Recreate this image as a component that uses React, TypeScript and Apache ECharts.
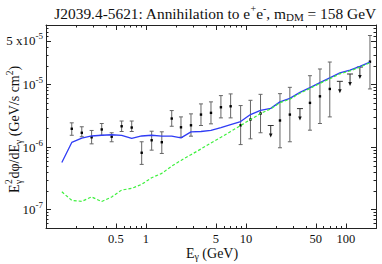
import React, { useEffect, useRef } from "react";
import * as echarts from "echarts";

// ---- data (GeV, GeV/s cm^2) ----
const energies = [0.181, 0.228, 0.286, 0.361, 0.454, 0.571, 0.72, 0.906, 1.14, 1.44, 1.81, 2.24, 2.82, 3.55, 4.47, 5.62, 7.03, 8.85, 11.1, 14.0, 17.7, 21.9, 27.5, 34.7, 43.7, 55, 69, 87, 110, 138, 174];
const flux = [1.97e-6, 1.70e-6, 1.44e-6, 1.92e-6, 1.47e-6, 2.16e-6, 2.06e-6, 8.14e-7, 1.29e-6, 1.20e-6, 2.87e-6, 2.08e-6, 2.24e-6, 3.32e-6, 3.54e-6, 4.35e-6, 4.51e-6, 2.24e-6, 2.77e-6, 3.45e-6, null, 2.67e-6, 3.32e-6, null, 5.11e-6, 6.51e-6, 8.54e-6, null, null, null, 2.33e-5];
const fluxLow = [1.55e-6, 1.47e-6, 1.13e-6, 1.55e-6, 1.22e-6, 1.78e-6, 1.78e-6, 5.30e-7, 8.96e-7, 7.93e-7, 2.16e-6, 1.44e-6, 1.50e-6, 2.22e-6, 2.36e-6, 2.94e-6, 2.94e-6, 1.10e-6, 1.36e-6, 1.70e-6, null, 9.78e-7, 1.22e-6, null, 1.87e-6, 2.39e-6, 3.05e-6, null, null, null, 8.54e-6];
const fluxHigh = [2.45e-6, 2.12e-6, 1.85e-6, 2.39e-6, 1.70e-6, 2.62e-6, 2.62e-6, 1.22e-6, 1.80e-6, 1.76e-6, 3.85e-6, 3.05e-6, 3.41e-6, 4.92e-6, 5.30e-6, 6.68e-6, 7.11e-6, 4.63e-6, 5.62e-6, 7.00e-6, null, 7.18e-6, 9.06e-6, null, 1.39e-5, 1.78e-5, 2.30e-5, null, null, null, 6.11e-5];
const upperLimits = [null, null, null, null, null, null, null, null, null, null, null, null, null, null, null, null, null, null, null, null, 2.22e-6, null, null, 4.14e-6, null, null, null, 1.13e-5, 1.48e-5, 1.91e-5, null];

const modelEnergies = [0.144, 0.181, 0.228, 0.286, 0.361, 0.454, 0.571, 0.72, 0.906, 1.14, 1.44, 1.81, 2.24, 2.82, 3.55, 4.47, 5.62, 7.03, 8.85, 11.1, 14.0, 17.7, 21.9, 27.5, 34.7, 43.7, 55, 69, 87, 110, 138, 174];
const totalModel = [5.70e-7, 1.19e-6, 1.40e-6, 1.51e-6, 1.55e-6, 1.58e-6, 1.54e-6, 1.38e-6, 1.51e-6, 1.55e-6, 1.50e-6, 1.50e-6, 1.41e-6, 1.76e-6, 1.78e-6, 1.85e-6, 2.06e-6, 2.30e-6, 2.57e-6, 3.32e-6, 3.89e-6, 4.17e-6, 5.30e-6, 6.04e-6, 7.51e-6, 8.96e-6, 1.08e-5, 1.28e-5, 1.54e-5, 1.71e-5, 1.96e-5, 2.30e-5];
const dmModel = [1.93e-7, 1.41e-7, 1.36e-7, 1.60e-7, 1.35e-7, 1.60e-7, 2.06e-7, 2.19e-7, 2.54e-7, 3.25e-7, 3.81e-7, 4.98e-7, 6.14e-7, 7.57e-7, 9.36e-7, 1.17e-6, 1.44e-6, 1.78e-6, 2.22e-6, 2.77e-6, 3.45e-6, 4.10e-6, 5.15e-6, 5.85e-6, 7.30e-6, 8.70e-6, 1.05e-5, 1.24e-5, 1.49e-5, 1.66e-5, 1.90e-5, 2.25e-5];

const xRange = [0.1, 200];
const yRange = [5e-8, 9e-5];
const xLabelValues = [0.5, 1, 5, 10, 50, 100];
const xMinorValues = [0.2, 0.3, 0.4, 0.6, 0.7, 0.8, 0.9, 2, 3, 4, 6, 7, 8, 9, 20, 30, 40, 60, 70, 80, 90];
const yLabelValues = [1e-7, 1e-6, 1e-5, 5e-5];
const yMinorValues = [6e-8, 7e-8, 8e-8, 9e-8, 2e-7, 3e-7, 4e-7, 5e-7, 6e-7, 7e-7, 8e-7, 9e-7, 2e-6, 3e-6, 4e-6, 5e-6, 6e-6, 7e-6, 8e-6, 9e-6, 2e-5, 3e-5, 4e-5, 6e-5, 7e-5, 8e-5];

const titleText = "J2039.4-5621: Annihilation to e{sup|+}e{sup|-}, m{sub|DM} = 158 GeV";

const L = (v: number) => Math.log10(v);
const FONT = "Liberation Serif";
const INK = "#111";
const FRAME = "#222";

export default function App() {
  const ref = useRef<HTMLDivElement>(null);
  useEffect(() => {
    if (!ref.current) return;
    const chart = echarts.init(ref.current, undefined, { renderer: "svg" });

    const xmin = L(xRange[0]), xmax = L(xRange[1]);
    const ymin = L(yRange[0]), ymax = L(yRange[1]);
    const lineStyle = { color: FRAME, width: 1 };

    const xAxisBase = (position: string, ticks: number[], len: number, showLine: boolean, labels: boolean) => ({
      type: "value",
      position,
      min: xmin,
      max: xmax,
      axisLine: { show: showLine, onZero: false, lineStyle },
      axisTick: { show: true, inside: true, length: len, customValues: ticks.map(L), lineStyle },
      axisLabel: labels
        ? {
            show: true,
            customValues: ticks.map(L),
            margin: 4,
            fontSize: 12.5,
            fontFamily: FONT,
            color: INK,
            formatter: (v: number) => String(Math.round(Math.pow(10, v) * 10) / 10),
          }
        : { show: false },
      splitLine: { show: false },
      axisPointer: { show: false },
    });
    const yAxisBase = (position: string, ticks: number[], len: number, showLine: boolean, labels: boolean) => ({
      type: "value",
      position,
      min: ymin,
      max: ymax,
      axisLine: { show: showLine, onZero: false, lineStyle },
      axisTick: { show: true, inside: true, length: len, customValues: ticks.map(L), lineStyle },
      axisLabel: labels
        ? {
            show: true,
            customValues: ticks.map(L),
            margin: 3,
            color: INK,
            fontFamily: FONT,
            fontSize: 13,
            formatter: (v: number) => {
              const e = Math.round(v);
              if (Math.abs(v - e) < 1e-6) return `{b|10}{s|${e}}`;
              const f = Math.floor(v);
              const m = Math.round(Math.pow(10, v - f));
              return `{b|${m} x10}{s|${f}}`;
            },
            rich: {
              b: { fontSize: 13, fontFamily: FONT, color: INK },
              s: { fontSize: 9, fontFamily: FONT, color: INK, padding: [0, 0, 9, 0] },
            },
          }
        : { show: false },
      splitLine: { show: false },
      axisPointer: { show: false },
    });

    const barData = energies.map((e, i) => {
      const u = upperLimits[i];
      if (u != null) return [L(e), L(u), 0, 0, 1];
      return [L(e), L(flux[i] as number), L(fluxLow[i] as number), L(fluxHigh[i] as number), 0];
    });

    const barColor = "#666666";
    const option: any = {
      animation: false,
      backgroundColor: "#ffffff",
      grid: { left: 46, right: 6, top: 25, bottom: 35.5, containLabel: false },
      xAxis: [
        xAxisBase("bottom", xLabelValues, 5, true, true),
        xAxisBase("bottom", xMinorValues, 2.5, false, false),
        xAxisBase("top", xLabelValues, 5, true, false),
        xAxisBase("top", xMinorValues, 2.5, false, false),
      ],
      yAxis: [
        yAxisBase("left", yLabelValues, 5, true, true),
        yAxisBase("left", yMinorValues, 2.5, false, false),
        yAxisBase("right", yLabelValues, 5, true, false),
        yAxisBase("right", yMinorValues, 2.5, false, false),
      ],
      series: [
        {
          type: "line",
          name: "total",
          data: modelEnergies.map((e, i) => [L(e), L(totalModel[i])]),
          showSymbol: false,
          symbol: "none",
          lineStyle: { color: "#2f3cf5", width: 1.3 },
          z: 3,
        },
        {
          type: "line",
          name: "dm",
          data: modelEnergies.map((e, i) => [L(e), L(dmModel[i])]),
          showSymbol: false,
          symbol: "none",
          lineStyle: { color: "#3ef03e", width: 1.2, type: [3, 2] },
          z: 4,
        },
        {
          type: "custom",
          name: "data",
          data: barData,
          encode: { x: 0, y: 1 },
          z: 2,
          renderItem: (_p: any, api: any) => {
            const x = api.value(0);
            const isUL = api.value(4);
            const st = { stroke: barColor, lineWidth: 1 };
            if (isUL) {
              const p = api.coord([x, api.value(1)]);
              return {
                type: "group",
                children: [
                  { type: "line", shape: { x1: p[0] - 3, y1: p[1], x2: p[0] + 3, y2: p[1] }, style: { stroke: "#333", lineWidth: 1 } },
                  { type: "line", shape: { x1: p[0], y1: p[1], x2: p[0], y2: p[1] + 9 }, style: { stroke: "#333", lineWidth: 1 } },
                  { type: "polygon", shape: { points: [[p[0] - 1.8, p[1] + 8], [p[0] + 1.8, p[1] + 8], [p[0], p[1] + 12]] }, style: { fill: "#111" } },
                ],
              };
            }
            const c = api.coord([x, api.value(1)]);
            const lo = api.coord([x, api.value(2)]);
            const hi = api.coord([x, api.value(3)]);
            return {
              type: "group",
              children: [
                { type: "line", shape: { x1: c[0], y1: lo[1], x2: c[0], y2: hi[1] }, style: st },
                { type: "line", shape: { x1: c[0] - 2, y1: lo[1], x2: c[0] + 2, y2: lo[1] }, style: st },
                { type: "line", shape: { x1: c[0] - 2, y1: hi[1], x2: c[0] + 2, y2: hi[1] }, style: st },
                { type: "rect", shape: { x: c[0] - 1.2, y: c[1] - 1.2, width: 2.4, height: 2.4 }, style: { fill: "#000" } },
              ],
            };
          },
        },
      ],
      graphic: [
        {
          type: "text",
          x: 215,
          y: 13,
          style: {
            text: titleText,
            fontSize: 15.4,
            fontFamily: FONT,
            fill: INK,
            align: "center",
            verticalAlign: "middle",
            rich: {
              sup: { fontSize: 10, fontFamily: FONT, fill: INK, padding: [0, 0, 9, 0] },
              sub: { fontSize: 11, fontFamily: FONT, fill: INK, padding: [7, 0, 0, 0] },
            },
          },
        },
        {
          type: "text",
          x: 212,
          y: 253,
          style: {
            text: "E{sub|γ} (GeV)",
            fontSize: 14,
            fontFamily: FONT,
            fill: INK,
            align: "center",
            verticalAlign: "middle",
            rich: {
              sub: { fontSize: 10, fontFamily: FONT, fill: INK, padding: [7, 0, 0, 0] },
            },
          },
        },
        {
          type: "group",
          x: 14.5,
          y: 193,
          rotation: Math.PI / 2,
          children: [
            { type: "text", x: 0, y: 0, style: { text: "E", fontSize: 14, fontFamily: FONT, fill: INK, align: "left", verticalAlign: "middle" } },
            { type: "text", x: 9, y: -5.5, style: { text: "2", fontSize: 9.5, fontFamily: FONT, fill: INK, align: "left", verticalAlign: "middle" } },
            { type: "text", x: 9, y: 4.5, style: { text: "γ", fontSize: 9.5, fontFamily: FONT, fill: INK, align: "left", verticalAlign: "middle" } },
            {
              type: "text",
              x: 14.5,
              y: 0,
              style: {
                text: "dφ/dE{sub|γ} (GeV/s cm{sup|2})",
                fontSize: 14,
                fontFamily: FONT,
                fill: INK,
                align: "left",
                verticalAlign: "middle",
                rich: {
                  sub: { fontSize: 9.5, fontFamily: FONT, fill: INK, padding: [9, 0, 0, 0] },
                  sup: { fontSize: 9.5, fontFamily: FONT, fill: INK, padding: [0, 0, 9, 0] },
                },
              },
            },
          ],
        },
      ],
    };
    chart.setOption(option);
    return () => chart.dispose();
  }, []);
  return <div ref={ref} style={{ position: "absolute", left: 0, top: 0, width: 382, height: 264 }} />;
}
